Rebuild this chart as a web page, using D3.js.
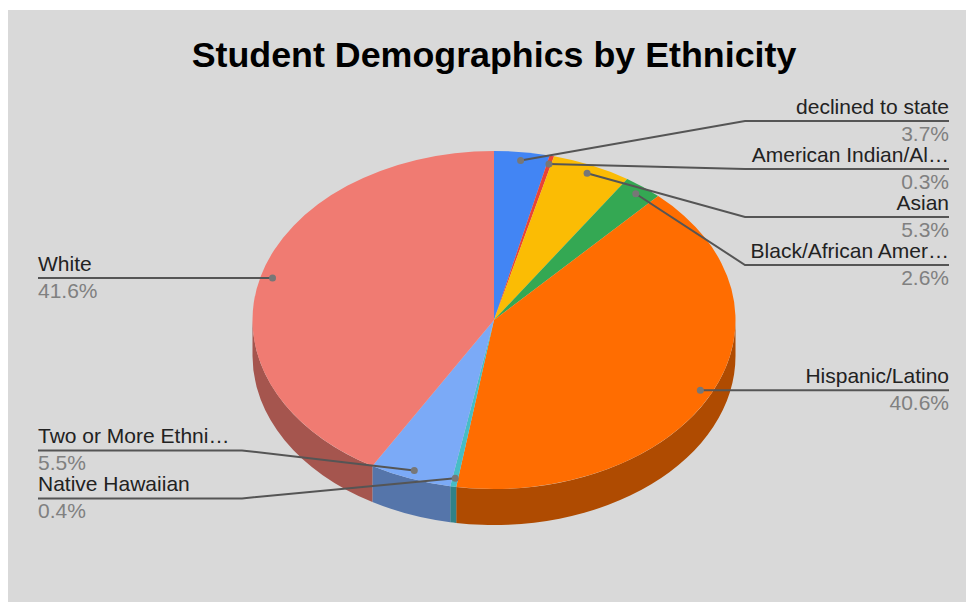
<!DOCTYPE html>
<html><head><meta charset="utf-8">
<script src="https://cdn.jsdelivr.net/npm/d3@7"></script>
<style>html,body{margin:0;padding:0;background:#fff;} svg{display:block;}</style>
</head><body>
<svg id="chart" width="966" height="602"></svg>
<script>
// ---- data ----
const categories = ["declined to state","American Indian/Al…","Asian","Black/African Amer…","Hispanic/Latino","Native Hawaiian","Two or More Ethni…","White"];
const values = [3.7,0.3,5.3,2.6,40.6,0.4,5.5,41.6];
const colors = ["#4285f4","#ea4335","#fbbc04","#34a853","#ff6d01","#46bdc6","#7baaf7","#f07b72"];
const chartTitle = "Student Demographics by Ethnicity";

// ---- layout ----
const W = 966, H = 602;
const cx = 494, cy = 320, rx = 241.5, ry = 169, depth = 36;
const dotFrac = 0.95;
const gap = 48, minLineY = 121, maxLineY = 560;
const rightEnd = 949, leftStart = 38, lineLen = 204;
const font = "'Liberation Sans', Arial, sans-serif";

const svg = d3.select("#chart");
svg.append("rect").attr("x",8).attr("y",10).attr("width",W-8).attr("height",H-10).attr("fill","#d9d9d9");

svg.append("text").attr("x",494).attr("y",67).attr("text-anchor","middle")
  .attr("font-family",font).attr("font-weight","bold").attr("font-size",35.8).attr("fill","#000")
  .text(chartTitle);

const total = d3.sum(values);
const fmt = d3.format(".1%");
const data = categories.map((c,i)=>({name:c, value:values[i], color:colors[i], pct:fmt(values[i]/total)}));
const arcs = d3.pie().sort(null).value(d=>d.value)(data);

const pt = (t, f=1, dy=0) => [cx + rx*f*Math.sin(t), cy - ry*f*Math.cos(t) + dy];

// sides (front half only)
const gSide = svg.append("g");
arcs.forEach(a=>{
  const s = Math.max(a.startAngle, Math.PI/2), e = Math.min(a.endAngle, 3*Math.PI/2);
  if (e <= s) return;
  const p1 = pt(s), p2 = pt(e), p3 = pt(e,1,depth), p4 = pt(s,1,depth);
  const d = `M${p1}A${rx},${ry} 0 0 1 ${p2}L${p3}A${rx},${ry} 0 0 0 ${p4}Z`;
  gSide.append("path").attr("d",d).attr("fill", d3.color(a.data.color).darker(1.05).formatHex());
});

// tops
const gTop = svg.append("g");
arcs.forEach(a=>{
  const p1 = pt(a.startAngle), p2 = pt(a.endAngle);
  const large = (a.endAngle - a.startAngle) > Math.PI ? 1 : 0;
  const d = `M${cx},${cy}L${p1}A${rx},${ry} 0 ${large} 1 ${p2}Z`;
  gTop.append("path").attr("d",d).attr("fill",a.data.color);
});

// label layout
const labels = arcs.map(a=>{
  const mid = (a.startAngle + a.endAngle)/2;
  const dot = pt(mid, dotFrac);
  return {a, mid, dot, side: mid < Math.PI ? "right" : "left", ideal: dot[1]};
});
function place(list){
  list.sort((p,q)=>p.ideal-q.ideal);
  let clusters = list.map(l=>({items:[l]}));
  const pos = c => {
    const n = c.items.length, mean = d3.mean(c.items, l=>l.ideal);
    let top = mean - (n-1)/2*gap;
    top = Math.max(minLineY, Math.min(top, maxLineY - (n-1)*gap));
    c.top = top; c.bottom = top + (n-1)*gap;
  };
  clusters.forEach(pos);
  let merged = true;
  while (merged) {
    merged = false;
    for (let i=1;i<clusters.length;i++){
      if (clusters[i].top < clusters[i-1].bottom + gap){
        clusters[i-1].items = clusters[i-1].items.concat(clusters[i].items);
        clusters.splice(i,1); pos(clusters[i-1]); merged = true; break;
      }
    }
  }
  clusters.forEach(c=>c.items.forEach((l,i)=>l.ly = c.top + i*gap));
}
place(labels.filter(l=>l.side==="right"));
place(labels.filter(l=>l.side==="left"));

const gLab = svg.append("g");
labels.forEach(l=>{
  const right = l.side==="right";
  const elbowX = right ? rightEnd - lineLen : leftStart + lineLen;
  const endX = right ? rightEnd : leftStart;
  gLab.append("path")
    .attr("d", `M${l.dot}L${elbowX},${l.ly}L${endX},${l.ly}`)
    .attr("fill","none").attr("stroke","#555").attr("stroke-width",2);
  gLab.append("circle").attr("cx",l.dot[0]).attr("cy",l.dot[1]).attr("r",3.5).attr("fill","#777");
  const anchor = right ? "end" : "start";
  gLab.append("text").attr("x",endX).attr("y",l.ly-7).attr("text-anchor",anchor)
    .attr("font-family",font).attr("font-size",21).attr("fill","#222").text(l.a.data.name);
  gLab.append("text").attr("x",endX).attr("y",l.ly+19.5).attr("text-anchor",anchor)
    .attr("font-family",font).attr("font-size",21).attr("fill","#808080").text(l.a.data.pct);
});
</script>
</body></html>
